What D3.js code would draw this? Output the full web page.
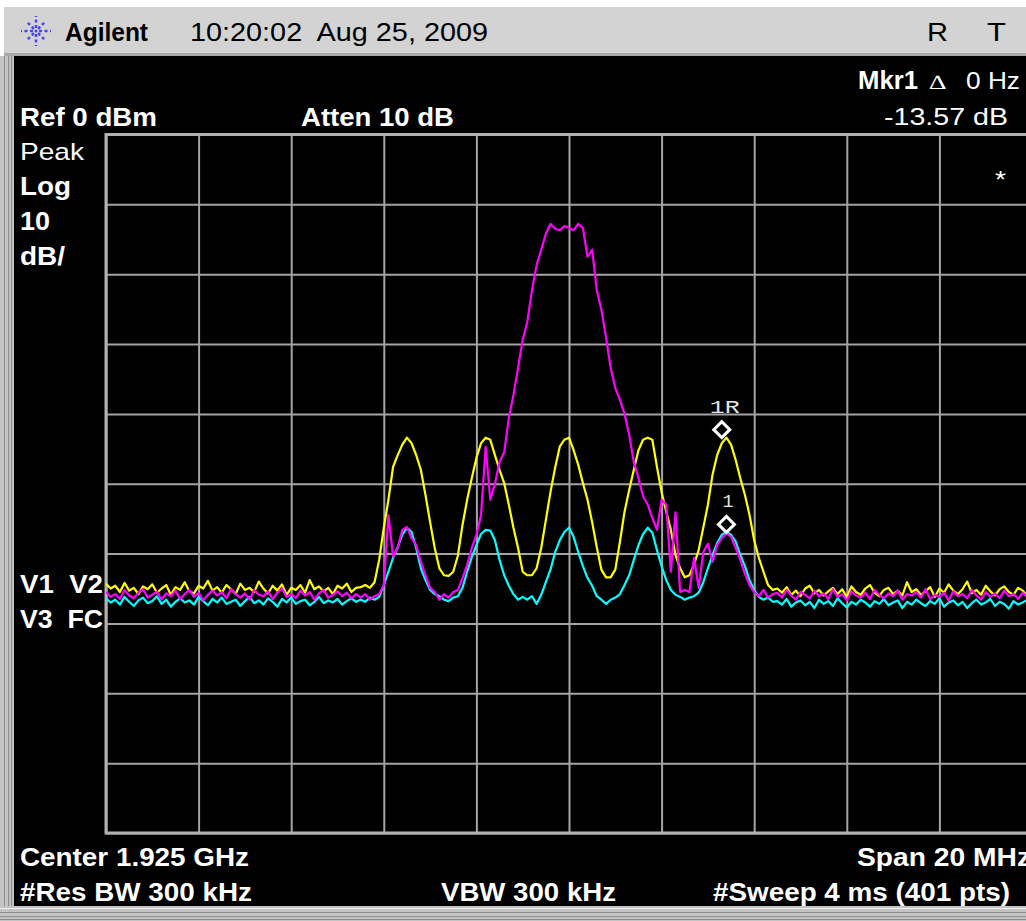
<!DOCTYPE html>
<meta charset="utf-8">
<head>
<style>
  body { margin:0; background:#fff; }
  svg { display:block; }
  text { font-family:"Liberation Sans", Arial, sans-serif; fill:#fff; white-space:pre; }
</style>
</head>
<body>
<svg id="screen" width="1026" height="921"></svg>
<script src="https://d3js.org/d3.v7.min.js"></script>
<script>

// ---- settings shown on screen ----
var clockText = "10:20:02  Aug 25, 2009";
var refText = "Ref 0 dBm", attenText = "Atten 10 dB";
var centerText = "Center 1.925 GHz", spanText = "Span 20 MHz";
var rbwText = "#Res BW 300 kHz", vbwText = "VBW 300 kHz", sweepText = "#Sweep 4 ms (401 pts)";
var mkrFreqText = "0 Hz", mkrDeltaText = "-13.57 dB";

// ---- axis: offset from center in MHz, level in dBm ----
var spanMHz = [-10, 10];
var levelDbm = [0, -100];
var xGridMHz = [-10, -8, -6, -4, -2, 0, 2, 4, 6, 8, 10];
var yGridDbm = [0, -10, -20, -30, -40, -50, -60, -70, -80, -90, -100];
var freqStep = 0.1; // one reading every 0.1 MHz

// ---- traces (dBm) ----
var yellowTrace = [
-64.3,-65.0,-64.6,-65.5,-64.2,-65.3,-64.9,-65.8,-64.7,-65.1,
-64.4,-65.6,-65.0,-64.5,-65.9,-64.8,-65.2,-64.1,-65.4,-65.7,
-64.6,-65.0,-63.9,-65.3,-64.8,-65.6,-64.5,-65.1,-65.8,-64.3,
-65.2,-64.9,-65.5,-64.0,-65.0,-65.7,-64.6,-65.3,-64.4,-65.9,
-64.9,-65.2,-64.5,-65.6,-63.8,-65.1,-64.7,-65.4,-64.9,-65.8,
-64.6,-65.0,-64.3,-65.5,-64.9,
-64.8,-64.5,-64.9,-64.1,-60.9,-56.3,-52.3,-47.6,-45.9,-44.4,
-43.4,-44.2,-45.9,-48.0,-51.6,-55.5,-59.2,-62.1,-63.1,-63.2,
-62.6,-60.3,-55.9,-52.3,-49.2,-46.3,-44.2,-43.4,-43.7,-45.9,
-48.0,-49.9,-53.0,-56.3,-59.2,-62.6,-63.1,-63.1,-62.1,-59.2,
-55.2,-51.2,-47.7,-44.7,-43.7,-43.4,-45.2,-47.3,-49.9,-52.3,
-55.5,-59.1,-62.3,-63.4,-63.4,-62.3,-58.3,-54.0,-50.9,-48.0,
-45.2,-43.7,-43.4,-43.7,-47.6,-51.2,-54.0,-56.6,-60.2,-62.1,
-63.4,-63.1,-61.6,-59.5,-56.3,-53.0,-48.7,-45.9,-44.2,-43.4,
-44.4,-46.6,-49.2,-51.6,-54.5,-58.1,-60.6,-62.6,-64.5,-65.2,
-65.0,-65.6,-64.8,-65.9,-65.3,-66.1,-65.0,-64.6,-65.7,-65.2,
-66.0,-65.4,-64.9,-65.8,-65.1,-66.2,-64.7,-65.5,-65.9,-65.0,
-64.5,-65.6,-66.1,-65.2,-64.9,-65.8,-65.3,-66.0,-64.1,-65.5,
-65.1,-65.9,-65.4,-64.8,-66.2,-65.0,-65.6,-64.4,-65.3,-65.8,
-65.1,-64.0,-65.7,-65.2,-65.9,-64.6,-65.4,-66.0,-65.1,-64.7,
-65.5,-65.9,-64.9,-65.3,-66.1,-65.2
];

var cyanTrace = [
-66.4,-67.0,-66.6,-67.3,-66.2,-66.9,-67.5,-66.7,-66.3,-67.1,
-66.8,-66.1,-67.2,-66.6,-67.6,-66.9,-66.4,-67.0,-66.7,-67.3,
-66.2,-66.8,-67.4,-66.5,-67.0,-66.3,-67.2,-66.9,-66.6,-67.5,
-66.8,-66.2,-67.1,-66.7,-67.3,-66.4,-66.9,-67.6,-66.5,-67.0,
-66.3,-67.2,-66.8,-66.6,-67.4,-66.9,-66.2,-67.1,-66.7,-67.0,
-66.5,-67.3,-66.8,-66.4,-66.9,
-66.6,-66.9,-66.3,-66.6,-66.2,-64.5,-62.6,-60.6,-59.1,-57.3,
-56.3,-56.9,-59.2,-62.1,-63.8,-65.2,-65.8,-66.1,-66.6,-66.8,
-66.3,-66.1,-64.9,-62.6,-60.5,-58.8,-57.2,-56.6,-56.7,-58.1,
-60.9,-63.1,-64.6,-65.8,-66.6,-66.2,-66.6,-66.1,-67.2,-65.9,
-64.1,-62.3,-59.8,-58.1,-56.9,-56.3,-57.6,-59.8,-61.8,-63.5,
-64.6,-66.1,-66.6,-67.2,-66.6,-66.3,-65.8,-64.5,-63.1,-60.9,
-58.8,-57.2,-56.3,-57.0,-59.5,-61.8,-63.8,-65.2,-65.9,-66.2,
-66.6,-66.3,-66.1,-65.6,-64.1,-62.1,-60.2,-58.5,-57.3,-56.9,
-57.3,-58.3,-60.2,-61.8,-63.8,-65.2,-66.2,-66.6,-66.3,-66.9,
-66.8,-67.3,-66.5,-67.6,-67.0,-66.7,-67.4,-66.9,-67.8,-66.6,
-67.2,-66.8,-67.5,-66.4,-67.1,-67.7,-66.9,-67.3,-66.6,-67.0,
-67.6,-66.8,-67.2,-66.5,-67.4,-67.0,-66.7,-67.8,-66.9,-67.3,
-66.6,-67.1,-67.5,-66.8,-67.2,-66.4,-67.6,-67.0,-66.7,-67.4,
-66.9,-67.8,-67.1,-66.6,-67.3,-67.0,-66.5,-67.5,-66.9,-67.2,
-67.9,-66.8,-67.3,-67.0,-66.6,-67.4
];

var magentaTrace = [
-65.5,-66.2,-65.8,-66.5,-65.2,-66.0,-66.4,-65.6,-65.1,-66.3,
-65.9,-65.4,-66.6,-65.7,-66.1,-65.3,-66.5,-65.8,-65.2,-66.2,
-65.6,-66.7,-65.9,-65.3,-66.0,-65.5,-66.4,-65.1,-65.8,-66.3,
-65.7,-66.6,-65.2,-65.9,-66.1,-65.4,-66.5,-65.6,-65.0,-66.2,
-65.8,-66.4,-65.3,-66.0,-65.5,-66.6,-65.7,-65.2,-66.3,-65.9,
-65.4,-66.1,-65.6,-66.4,-65.8,
-66.3,-65.8,-66.6,-66.1,-65.8,-64.5,-54.5,-60.4,-59.2,-56.6,
-56.2,-57.8,-58.8,-61.2,-63.1,-64.9,-65.5,-66.6,-65.8,-66.3,
-65.5,-65.2,-63.5,-61.6,-59.2,-57.3,-54.5,-44.7,-52.3,-50.0,
-46.9,-45.5,-40.6,-37.3,-33.4,-29.4,-26.8,-22.3,-18.7,-16.5,
-14.2,-12.8,-13.5,-13.7,-13.1,-13.4,-13.7,-12.8,-13.4,-17.5,
-16.5,-22.3,-25.1,-29.1,-33.4,-36.3,-38.0,-40.0,-43.0,-46.9,
-49.2,-51.8,-53.0,-54.9,-56.6,-52.3,-53.0,-62.6,-54.1,-65.5,
-65.2,-65.5,-60.6,-64.9,-59.8,-58.6,-61.2,-58.8,-57.8,-57.1,
-57.6,-59.2,-60.9,-62.9,-64.5,-65.5,-66.1,-65.2,-66.3,-65.8,
-65.6,-66.3,-65.2,-66.0,-66.6,-65.5,-65.9,-66.4,-65.3,-66.1,
-65.7,-66.5,-65.1,-66.2,-65.8,-66.7,-65.4,-66.0,-66.3,-65.6,
-66.5,-65.2,-65.9,-66.4,-65.7,-66.1,-65.3,-66.6,-65.8,-66.0,
-65.5,-66.3,-65.1,-66.5,-65.9,-66.2,-65.6,-66.7,-65.4,-66.1,
-65.8,-66.4,-65.2,-66.0,-66.6,-65.5,-66.2,-65.7,-66.4,-65.3,
-66.1,-65.8,-66.5,-65.6,-66.2,-65.9
];

// markers: reference 1R on yellow, delta 1 on cyan
var markerLabels = ["1R", "1"];
var markerFreqs = [3.3, 3.4];
var markerLevels = [-43.4, -56.97];

// ---- layout ----
var svg = d3.select("#screen"),
    W = +svg.attr("width"),
    H = +svg.attr("height");

var plotLeft = 106, plotTop = 134.5, plotRight = 1032, plotBottom = 833;

var x = d3.scaleLinear().domain(spanMHz).range([plotLeft, plotRight]);
var y = d3.scaleLinear().domain(levelDbm).range([plotTop, plotBottom]);

// bezel and title bar
svg.append("rect").attr("width", W).attr("height", H).attr("fill", "#fff");
svg.append("rect").attr("x", 4).attr("y", 7).attr("width", W - 4).attr("height", 47).attr("fill", "#d3d3d3");
svg.append("rect").attr("x", 4).attr("y", 53).attr("width", W - 4).attr("height", 3).attr("fill", "#a9a9a9");
svg.append("rect").attr("x", 0).attr("y", 56).attr("width", 14).attr("height", H - 56).attr("fill", "#c4c4c4");
[4, 8, 11].forEach(function(px){
  svg.append("rect").attr("x", px).attr("y", 56).attr("width", 1).attr("height", H - 56).attr("fill", "#8c8c8c");
});
svg.append("rect").attr("x", 0).attr("y", 906).attr("width", W).attr("height", H - 906).attr("fill", "#c4c4c4");
[908, 912, 916, 919].forEach(function(py){
  svg.append("rect").attr("x", 0).attr("y", py).attr("width", W).attr("height", 1).attr("fill", py == 908 ? "#f0f0f0" : "#8c8c8c");
});
svg.append("rect").attr("x", 14).attr("y", 56).attr("width", W - 14).attr("height", 850).attr("fill", "#000");

// Agilent spark logo
var logo = svg.append("g").attr("transform", "translate(36,31)");
d3.range(0, 360, 45).forEach(function(a){
  var r = (a % 90 == 0) ? 15 : 12, rad = a * Math.PI / 180;
  logo.append("line")
    .attr("x1", Math.cos(rad) * 3).attr("y1", Math.sin(rad) * 3)
    .attr("x2", Math.cos(rad) * r).attr("y2", Math.sin(rad) * r)
    .attr("stroke", "#4646f0").attr("stroke-width", 2.5)
    .style("stroke-dasharray", "3,2.5");
});
logo.append("circle").attr("r", 1.5).attr("fill", "#4646f0");

function label(txt, px, py, size, bold, len, color) {
  var t = svg.append("text")
    .attr("x", px).attr("y", py)
    .style("font-size", size + "px")
    .style("font-weight", bold ? "bold" : "normal")
    .text(txt);
  if (len) t.attr("textLength", len).attr("lengthAdjust", "spacingAndGlyphs");
  if (color) t.style("fill", color);
  return t;
}

// title bar text
label("Agilent", 65, 41, 26, true, 83, "#000");
label(clockText, 190, 41, 26, false, 298, "#000");
label("R", 927, 41, 26, false, 21, "#000");
label("T", 987, 41, 26, false, 19, "#000");

// grid
var grid = svg.append("g");
grid.append("g")
  .attr("transform", "translate(0," + plotBottom + ")")
  .call(d3.axisBottom(x).tickValues(xGridMHz).tickSize(-(plotBottom - plotTop)).tickFormat(""))
  .call(function(g){ g.select(".domain").remove(); })
  .selectAll("line").attr("stroke", "#a4a4a4").attr("stroke-width", 2);
grid.append("g")
  .attr("transform", "translate(" + plotLeft + ",0)")
  .call(d3.axisLeft(y).tickValues(yGridDbm).tickSize(-(plotRight - plotLeft)).tickFormat(""))
  .call(function(g){ g.select(".domain").remove(); })
  .selectAll("line").attr("stroke", "#a4a4a4").attr("stroke-width", 2);
svg.append("rect")
  .attr("x", plotLeft).attr("y", plotTop)
  .attr("width", plotRight - plotLeft).attr("height", plotBottom - plotTop)
  .attr("fill", "none").attr("stroke", "#b2b2b2").attr("stroke-width", 3);

// traces
svg.append("clipPath").attr("id", "plotClip")
  .append("rect").attr("x", plotLeft).attr("y", plotTop)
  .attr("width", plotRight - plotLeft).attr("height", plotBottom - plotTop);

var line = d3.line()
  .x(function(d, i){ return x(spanMHz[0] + i * freqStep); })
  .y(function(d){ return y(d); });

var traces = [
  { values: yellowTrace, color: "#ffff00" },
  { values: cyanTrace, color: "#00ffff" },
  { values: magentaTrace, color: "#ff00ff" }
];
svg.append("g").attr("clip-path", "url(#plotClip)")
  .selectAll("path")
  .data(traces)
  .enter()
  .append("path")
    .attr("d", function(d){ return line(d.values); })
    .attr("fill", "none")
    .attr("stroke", function(d){ return d.color; })
    .attr("stroke-width", 2.2)
    .attr("stroke-linejoin", "round");

// markers
var mk = svg.append("g").selectAll("g")
  .data(markerLabels)
  .enter()
  .append("g")
  .attr("transform", function(d, i){ return "translate(" + x(markerFreqs[i]) + "," + (y(markerLevels[i]) - 8) + ")"; });
mk.append("path")
  .attr("d", "M0,-8 L8,0 L0,8 L-8,0 Z")
  .attr("fill", "none").attr("stroke", "#fff").attr("stroke-width", 3);
mk.append("text")
  .attr("x", function(d){ return d.length > 1 ? -12 : -4; })
  .attr("y", -17)
  .attr("textLength", function(d){ return d.length > 1 ? 30 : 11; })
  .attr("lengthAdjust", "spacingAndGlyphs")
  .style("font-family", "'Liberation Mono', 'DejaVu Sans Mono', monospace")
  .style("font-size", "18px")
  .style("fill", "#e6e6e6")
  .text(function(d){ return d; });

// annotations
label("Mkr1", 858, 89, 25, true, 60);
label("\u2206", 929, 89, 20, false, 17).style("font-family", "'Liberation Serif', 'DejaVu Serif', serif");
label(mkrFreqText, 966, 89, 24, false, 54);
label(mkrDeltaText, 884, 125, 24, false, 124);
label(refText, 20, 126, 25, true, 137);
label(attenText, 301, 126, 25, true, 153);
label("Peak", 20, 160, 24, false, 64);
label("Log", 20, 195, 25, true, 51);
label("10", 20, 230, 25, true, 30);
label("dB/", 20, 265, 25, true, 45);
label("*", 995, 188, 24, false, 11);
label("V1  V2", 20, 593, 25, true, 83);
label("V3  FC", 20, 628, 25, true, 83);
label(centerText, 20, 866, 25, true, 229);
label(spanText, 857, 866, 25, true, 174);
label(rbwText, 20, 901, 25, true, 232);
label(vbwText, 441, 901, 25, true, 175);
label(sweepText, 713, 901, 25, true, 297);

</script>
</body>
